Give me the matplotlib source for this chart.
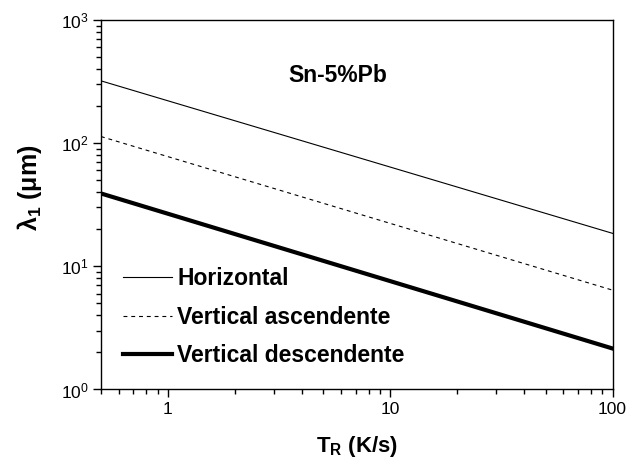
import matplotlib
matplotlib.use("Agg")
import matplotlib.pyplot as plt
from matplotlib.ticker import LogLocator, NullFormatter

plt.rcParams['font.family'] = ['Liberation Sans', 'DejaVu Sans']
plt.rcParams['mathtext.fontset'] = 'custom'
plt.rcParams['mathtext.rm'] = 'Liberation Sans'
plt.rcParams['mathtext.bf'] = 'Liberation Sans:bold'
plt.rcParams['mathtext.it'] = 'Liberation Sans:italic'

# end points of each line (straight lines on log-log axes)
tr = [0.5, 100]
horizontal = [320, 18.5]
vert_asc = [113, 6.4]
vert_desc = [39, 2.15]

labels = ["Horizontal", "Vertical ascendente", "Vertical descendente"]
xticks = [1, 10, 100]
xticklabels = ["1", "10", "100"]

fig = plt.figure(figsize=(6.27, 4.62), dpi=100)
ax = fig.add_axes([0.161, 0.157, 0.816, 0.8])

ax.plot(tr, horizontal, color="black", lw=0.8, label=labels[0])
ax.plot(tr, vert_asc, color="black", lw=0.8, dashes=(3.5, 3.5), label=labels[1])
ax.plot(tr, vert_desc, color="black", lw=3, label=labels[2])

ax.set_xscale("log")
ax.set_yscale("log")
ax.set_xlim(0.5, 100)
ax.set_ylim(1, 1000)

ax.set_xticks(xticks)
ax.set_xticklabels(xticklabels)
ax.xaxis.set_minor_locator(LogLocator(base=10, subs=range(2, 10)))
ax.xaxis.set_minor_formatter(NullFormatter())
ax.yaxis.set_major_locator(LogLocator(base=10, numticks=10))
ax.yaxis.set_minor_locator(LogLocator(base=10, subs=range(2, 10), numticks=10))
ax.yaxis.set_minor_formatter(NullFormatter())

ax.tick_params(which="major", direction="out", length=6, width=1, labelsize=12.5, pad=3)
ax.tick_params(which="minor", direction="out", length=3.5, width=1)
for s in ax.spines.values():
    s.set_linewidth(1)

ax.set_xlabel(r"T$_\mathbf{R}$ (K/s)", fontsize=16, fontweight="bold", labelpad=12)
ax.set_ylabel("λ$_\\mathbf{1}$ (μm)", fontsize=18, fontweight="bold")
ax.yaxis.set_label_coords(-0.112, 0.545)

ax.text(0.463, 0.85, "Sn-5%Pb", transform=ax.transAxes, fontsize=16.5,
        fontweight="bold", ha="center", va="center")

leg = ax.legend(loc="center left", bbox_to_anchor=(0.043, 0.195), frameon=False,
                borderpad=0, borderaxespad=0,
                handlelength=2.15, handletextpad=0.22, labelspacing=0.68,
                prop={"weight": "bold", "size": 16.5})

fig.savefig("out.png", dpi=100)
